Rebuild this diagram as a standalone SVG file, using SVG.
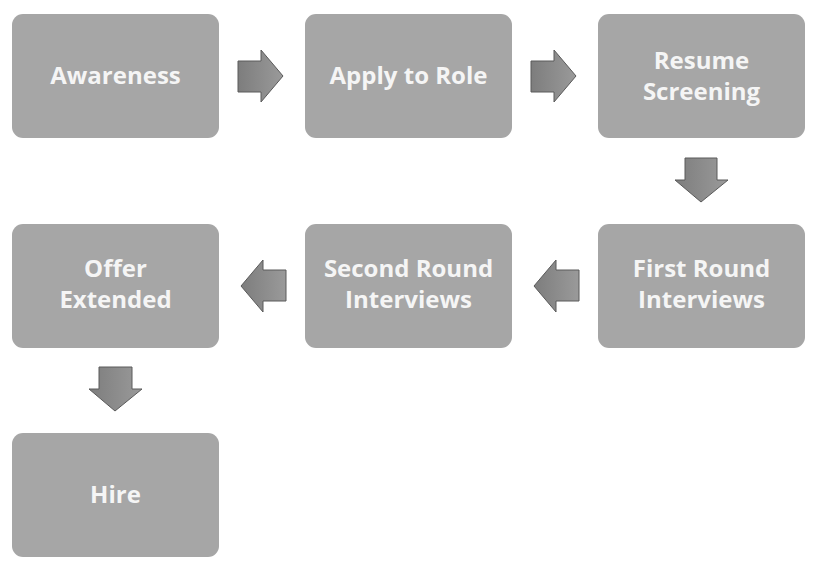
<svg xmlns="http://www.w3.org/2000/svg" width="820" height="574" viewBox="0 0 820 574">
<defs>
<linearGradient id="g" x1="0" y1="0" x2="1" y2="0">
<stop offset="0" stop-color="#7d7d7d"/>
<stop offset="1" stop-color="#9a9a9a"/>
</linearGradient>
<style>
.box{fill:#a6a6a6;}
.t{font-family:"Open Sans","Noto Sans",sans-serif;font-weight:bold;font-size:24px;fill:#f5f5f5;text-anchor:middle;}
.ar{fill:url(#g);stroke:#5a5a5a;stroke-width:1;}
</style>
</defs>
<rect width="820" height="574" fill="#ffffff"/>
<g id="connectors">
<polygon class="ar" points="238,61 261,61 261,50 283,76 261,102 261,92 238,92"/>
<polygon class="ar" points="531,61 554,61 554,50 576,76 554,102 554,92 531,92"/>
<polygon class="ar" points="685,158 717,158 717,180 728,180 701,202 675,180 685,180"/>
<polygon class="ar" points="579,270 579,301 556,301 556,312 534,286 556,260 556,270"/>
<polygon class="ar" points="286,270 286,301 263,301 263,312 241,286 263,260 263,270"/>
<polygon class="ar" points="99,367 132,367 132,389 142,389 115,411 89,389 99,389"/>
</g>
<g id="n-awareness"><rect class="box" x="12" y="14" width="207" height="124" rx="11"/><text class="t" x="115.5" y="84">Awareness</text></g>
<g id="n-apply"><rect class="box" x="305" y="14" width="207" height="124" rx="11"/><text class="t" x="408.5" y="84">Apply to Role</text></g>
<g id="n-resume"><rect class="box" x="598" y="14" width="207" height="124" rx="11"/><text class="t" x="701.5" y="69">Resume</text><text class="t" x="701.5" y="100">Screening</text></g>
<g id="n-first"><rect class="box" x="598" y="224" width="207" height="124" rx="11"/><text class="t" x="701.5" y="277">First Round</text><text class="t" x="701.5" y="308">Interviews</text></g>
<g id="n-second"><rect class="box" x="305" y="224" width="207" height="124" rx="11"/><text class="t" x="408.5" y="277">Second Round</text><text class="t" x="408.5" y="308">Interviews</text></g>
<g id="n-offer"><rect class="box" x="12" y="224" width="207" height="124" rx="11"/><text class="t" x="115.5" y="277">Offer</text><text class="t" x="115.5" y="308">Extended</text></g>
<g id="n-hire"><rect class="box" x="12" y="433" width="207" height="124" rx="11"/><text class="t" x="115.5" y="503">Hire</text></g>
</svg>
